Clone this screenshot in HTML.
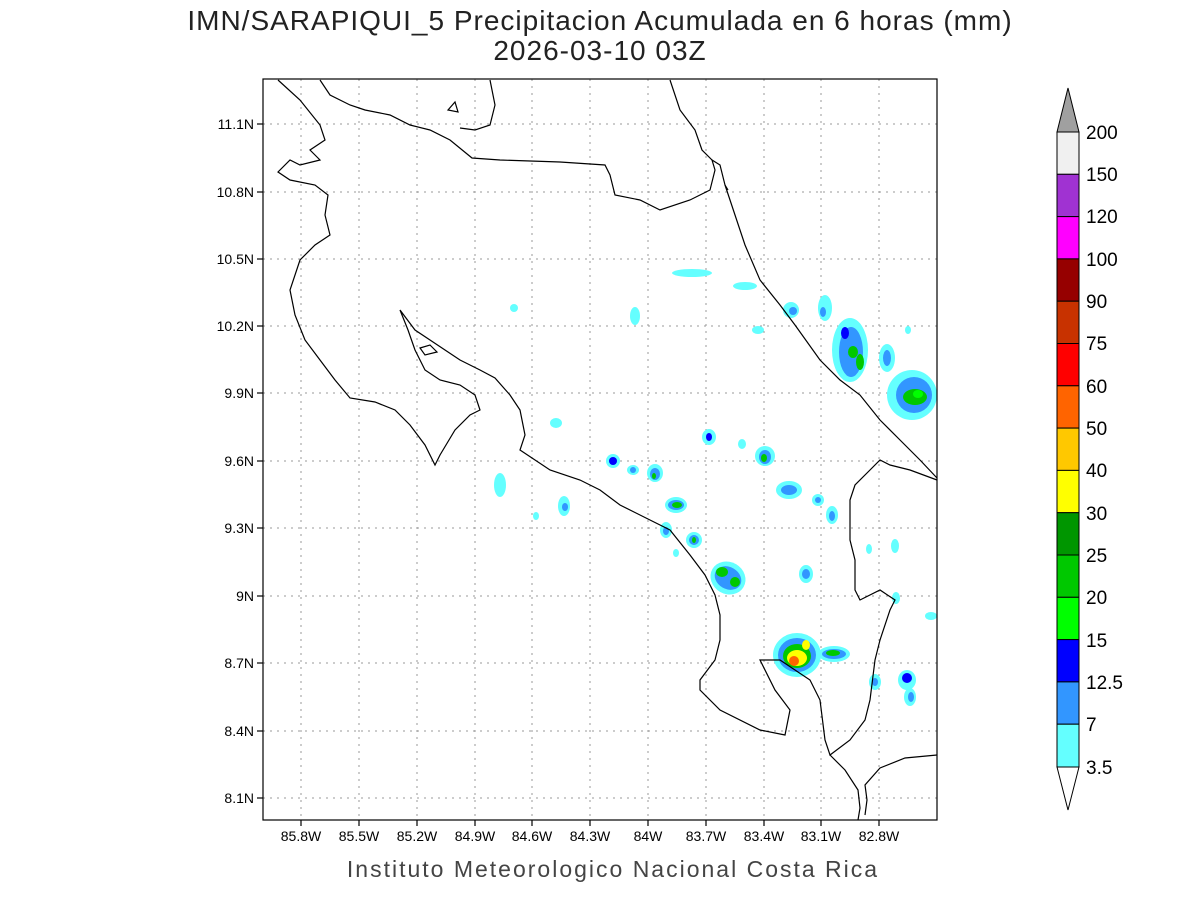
<!DOCTYPE html>
<html><head><meta charset="utf-8"><style>
body{margin:0;background:#fff;width:1200px;height:900px;overflow:hidden}
svg{display:block}
text{font-family:"Liberation Sans",sans-serif}
</style></head><body>
<svg width="1200" height="900" viewBox="0 0 1200 900">
<rect width="1200" height="900" fill="#fff"/>
<text x="600" y="30" font-size="28" text-anchor="middle" fill="#222" letter-spacing="1">IMN/SARAPIQUI_5 Precipitacion Acumulada en 6 horas (mm)</text>
<text x="600" y="60" font-size="28" text-anchor="middle" fill="#222" letter-spacing="1">2026-03-10 03Z</text>
<g stroke="#999" stroke-dasharray="2,5" stroke-width="1">
<line x1="301" y1="79" x2="301" y2="820"/><line x1="359" y1="79" x2="359" y2="820"/><line x1="417" y1="79" x2="417" y2="820"/><line x1="475" y1="79" x2="475" y2="820"/><line x1="532" y1="79" x2="532" y2="820"/><line x1="590" y1="79" x2="590" y2="820"/><line x1="648" y1="79" x2="648" y2="820"/><line x1="706" y1="79" x2="706" y2="820"/><line x1="764" y1="79" x2="764" y2="820"/><line x1="821" y1="79" x2="821" y2="820"/><line x1="879" y1="79" x2="879" y2="820"/>
<line x1="263" y1="124" x2="937" y2="124"/><line x1="263" y1="192" x2="937" y2="192"/><line x1="263" y1="259" x2="937" y2="259"/><line x1="263" y1="326" x2="937" y2="326"/><line x1="263" y1="393" x2="937" y2="393"/><line x1="263" y1="461" x2="937" y2="461"/><line x1="263" y1="528" x2="937" y2="528"/><line x1="263" y1="596" x2="937" y2="596"/><line x1="263" y1="663" x2="937" y2="663"/><line x1="263" y1="731" x2="937" y2="731"/><line x1="263" y1="798" x2="937" y2="798"/>
</g>
<g stroke="#000" stroke-width="1.2">
<line x1="301" y1="820" x2="301" y2="826"/><line x1="359" y1="820" x2="359" y2="826"/><line x1="417" y1="820" x2="417" y2="826"/><line x1="475" y1="820" x2="475" y2="826"/><line x1="532" y1="820" x2="532" y2="826"/><line x1="590" y1="820" x2="590" y2="826"/><line x1="648" y1="820" x2="648" y2="826"/><line x1="706" y1="820" x2="706" y2="826"/><line x1="764" y1="820" x2="764" y2="826"/><line x1="821" y1="820" x2="821" y2="826"/><line x1="879" y1="820" x2="879" y2="826"/>
<line x1="257" y1="124" x2="263" y2="124"/><line x1="257" y1="192" x2="263" y2="192"/><line x1="257" y1="259" x2="263" y2="259"/><line x1="257" y1="326" x2="263" y2="326"/><line x1="257" y1="393" x2="263" y2="393"/><line x1="257" y1="461" x2="263" y2="461"/><line x1="257" y1="528" x2="263" y2="528"/><line x1="257" y1="596" x2="263" y2="596"/><line x1="257" y1="663" x2="263" y2="663"/><line x1="257" y1="731" x2="263" y2="731"/><line x1="257" y1="798" x2="263" y2="798"/>
</g>
<!-- precip blobs -->
<g>
<ellipse cx="692" cy="273" rx="20" ry="4" fill="#64ffff"/>
<ellipse cx="745" cy="286" rx="12" ry="4" fill="#64ffff"/>
<ellipse cx="514" cy="308" rx="4" ry="4" fill="#64ffff"/>
<ellipse cx="635" cy="316" rx="5" ry="9" fill="#64ffff"/>
<ellipse cx="758" cy="330" rx="6" ry="4" fill="#64ffff"/>
<ellipse cx="791" cy="310" rx="8" ry="8" fill="#64ffff"/><ellipse cx="793" cy="311" rx="4" ry="4" fill="#3296ff"/>
<ellipse cx="825" cy="308" rx="7" ry="13" fill="#64ffff"/><ellipse cx="823" cy="312" rx="3" ry="5" fill="#3296ff"/>
<ellipse cx="850" cy="350" rx="18" ry="32" fill="#64ffff"/><ellipse cx="851" cy="352" rx="12" ry="25" fill="#3296ff"/>
<ellipse cx="845" cy="333" rx="4" ry="6" fill="#0000ff"/><ellipse cx="853" cy="352" rx="5" ry="6" fill="#00c800"/><ellipse cx="860" cy="362" rx="4" ry="8" fill="#00c800"/>
<ellipse cx="887" cy="358" rx="8" ry="14" fill="#64ffff"/><ellipse cx="887" cy="358" rx="4" ry="8" fill="#3296ff"/>
<ellipse cx="912" cy="395" rx="25" ry="25" fill="#64ffff"/><ellipse cx="914" cy="395" rx="18" ry="18" fill="#3296ff"/><ellipse cx="915" cy="397" rx="12" ry="8" fill="#00c800"/><ellipse cx="918" cy="394" rx="5" ry="4" fill="#00ff00"/>
<ellipse cx="908" cy="330" rx="3" ry="4" fill="#64ffff"/>
<ellipse cx="556" cy="423" rx="6" ry="5" fill="#64ffff"/>
<ellipse cx="709" cy="437" rx="7" ry="8" fill="#64ffff"/><ellipse cx="709" cy="437" rx="3" ry="4" fill="#0000ff"/>
<ellipse cx="742" cy="444" rx="4" ry="5" fill="#64ffff"/>
<ellipse cx="765" cy="456" rx="10" ry="10" fill="#64ffff"/><ellipse cx="765" cy="457" rx="6" ry="7" fill="#3296ff"/><ellipse cx="764" cy="458" rx="3" ry="4" fill="#00c800"/>
<ellipse cx="613" cy="461" rx="7" ry="7" fill="#64ffff"/><ellipse cx="613" cy="461" rx="4" ry="4" fill="#0000ff"/>
<ellipse cx="633" cy="470" rx="6" ry="5" fill="#64ffff"/><ellipse cx="633" cy="470" rx="3" ry="3" fill="#3296ff"/>
<ellipse cx="655" cy="473" rx="8" ry="9" fill="#64ffff"/><ellipse cx="655" cy="474" rx="5" ry="6" fill="#3296ff"/><ellipse cx="654" cy="476" rx="2" ry="3" fill="#00c800"/>
<ellipse cx="500" cy="485" rx="6" ry="12" fill="#64ffff"/>
<ellipse cx="789" cy="490" rx="13" ry="9" fill="#64ffff"/><ellipse cx="789" cy="490" rx="8" ry="5" fill="#3296ff"/>
<ellipse cx="818" cy="500" rx="6" ry="6" fill="#64ffff"/><ellipse cx="818" cy="500" rx="3" ry="3" fill="#3296ff"/>
<ellipse cx="832" cy="515" rx="6" ry="9" fill="#64ffff"/><ellipse cx="832" cy="516" rx="3" ry="5" fill="#3296ff"/>
<ellipse cx="564" cy="506" rx="6" ry="10" fill="#64ffff"/><ellipse cx="565" cy="507" rx="3" ry="4" fill="#3296ff"/>
<ellipse cx="676" cy="505" rx="11" ry="8" fill="#64ffff"/><ellipse cx="676" cy="505" rx="8" ry="5" fill="#3296ff"/><ellipse cx="677" cy="505" rx="5" ry="3" fill="#00c800"/>
<ellipse cx="536" cy="516" rx="3" ry="4" fill="#64ffff"/>
<ellipse cx="666" cy="530" rx="6" ry="8" fill="#64ffff"/><ellipse cx="666" cy="531" rx="3" ry="4" fill="#3296ff"/>
<ellipse cx="694" cy="540" rx="8" ry="8" fill="#64ffff"/><ellipse cx="694" cy="540" rx="5" ry="5" fill="#3296ff"/><ellipse cx="694" cy="540" rx="2" ry="3" fill="#00c800"/>
<ellipse cx="676" cy="553" rx="3" ry="4" fill="#64ffff"/>
<ellipse cx="869" cy="549" rx="3" ry="5" fill="#64ffff"/><ellipse cx="895" cy="546" rx="4" ry="7" fill="#64ffff"/>
<ellipse cx="728" cy="578" rx="18" ry="16" transform="rotate(30 728 578)" fill="#64ffff"/><ellipse cx="728" cy="578" rx="14" ry="11" transform="rotate(30 728 578)" fill="#3296ff"/><ellipse cx="722" cy="572" rx="6" ry="5" fill="#00c800"/><ellipse cx="735" cy="582" rx="5" ry="5" fill="#00c800"/>
<ellipse cx="806" cy="574" rx="7" ry="9" fill="#64ffff"/><ellipse cx="806" cy="574" rx="4" ry="5" fill="#3296ff"/>
<ellipse cx="896" cy="598" rx="4" ry="6" fill="#64ffff"/><ellipse cx="931" cy="616" rx="6" ry="4" fill="#64ffff"/>
<ellipse cx="797" cy="655" rx="24" ry="22" fill="#64ffff"/><ellipse cx="797" cy="655" rx="19" ry="17" fill="#3296ff"/><ellipse cx="797" cy="656" rx="14" ry="12" fill="#00c800"/><ellipse cx="797" cy="658" rx="10" ry="8" fill="#ffff00"/><ellipse cx="794" cy="661" rx="5" ry="5" fill="#ff6400"/><ellipse cx="806" cy="645" rx="4" ry="5" fill="#ffff00"/>
<ellipse cx="834" cy="654" rx="16" ry="8" fill="#64ffff"/><ellipse cx="834" cy="654" rx="12" ry="5" fill="#3296ff"/><ellipse cx="833" cy="653" rx="7" ry="3" fill="#00c800"/>
<ellipse cx="875" cy="682" rx="6" ry="8" fill="#64ffff"/><ellipse cx="875" cy="682" rx="3" ry="4" fill="#3296ff"/>
<ellipse cx="907" cy="680" rx="9" ry="10" fill="#64ffff"/><ellipse cx="907" cy="678" rx="5" ry="5" fill="#0000ff"/>
<ellipse cx="910" cy="697" rx="6" ry="9" fill="#64ffff"/><ellipse cx="911" cy="697" rx="3" ry="5" fill="#3296ff"/>
</g>
<!-- coastlines -->
<g fill="none" stroke="#000" stroke-width="1.2">
<polyline points="278,80 300,100 320,125 325,140 310,150 320,160 300,165 290,160 278,172 290,180 315,185 328,195 325,215 330,235 315,245 300,260 290,290 295,315 305,340 320,360 335,380 350,398 375,402 395,410 410,425 425,445 435,465 440,455 455,430 470,415 480,410 475,395 460,385 440,380 425,370 415,350 408,330 400,310 415,330 430,340 445,350 460,360 480,370 495,378 510,395 520,410 525,435 520,450 550,470 580,480 600,490 620,505 650,520 670,530 690,555 705,575 715,595 720,615 720,640 715,660 700,680 700,690 720,710 760,730 785,735 790,710 775,690 760,660 780,660 810,680 820,700 825,740 830,755 850,740 865,720 870,700 875,660 880,640 890,610 895,600 880,590 860,600 855,590 855,560 850,540 850,500 855,485 870,470 880,460 890,465 910,470 937,480"/>
<polyline points="725,185 735,215 745,245 760,280 780,305 795,325 820,360 840,380 860,395 880,420 900,440 920,460 937,478"/>
<polyline points="320,80 330,95 350,105 365,110 390,115 410,125 430,130 450,140 472,158 500,160 560,162 605,165 610,175 615,195 640,200 660,210 690,200 710,190 715,170 712,160 720,165 725,185 728,190"/>
<polyline points="490,80 495,105 490,125 475,130 460,128"/>
<polyline points="670,80 680,110 695,130 702,150 712,160"/>
<polyline points="937,755 905,758 880,768 865,785 867,800 865,815"/>
<polyline points="830,755 845,770 858,790 860,808 858,820"/>
<polygon points="420,348 430,345 437,352 425,355"/>
<polygon points="448,110 455,102 458,112"/>
</g>
<rect x="263" y="79" width="674" height="741" fill="none" stroke="#000" stroke-width="1.2"/>
<g font-size="14" fill="#000" text-anchor="end">
<text x="254" y="129">11.1N</text><text x="254" y="197">10.8N</text><text x="254" y="264">10.5N</text><text x="254" y="331">10.2N</text><text x="254" y="398">9.9N</text><text x="254" y="466">9.6N</text><text x="254" y="533">9.3N</text><text x="254" y="601">9N</text><text x="254" y="668">8.7N</text><text x="254" y="736">8.4N</text><text x="254" y="803">8.1N</text>
</g>
<g font-size="14" fill="#000" text-anchor="middle">
<text x="301" y="841">85.8W</text><text x="359" y="841">85.5W</text><text x="417" y="841">85.2W</text><text x="475" y="841">84.9W</text><text x="532" y="841">84.6W</text><text x="590" y="841">84.3W</text><text x="648" y="841">84W</text><text x="706" y="841">83.7W</text><text x="764" y="841">83.4W</text><text x="821" y="841">83.1W</text><text x="879" y="841">82.8W</text>
</g>
<text x="613" y="877" font-size="23" fill="#444" text-anchor="middle" letter-spacing="2">Instituto Meteorologico Nacional Costa Rica</text>
<!-- colorbar -->
<g stroke="#000" stroke-width="1">
<polygon points="1057,132 1079,132 1068,88" fill="#a0a0a0"/>
<rect x="1057" y="132" width="22" height="42.3" fill="#f0f0f0"/>
<rect x="1057" y="174.3" width="22" height="42.3" fill="#a032d2"/>
<rect x="1057" y="216.6" width="22" height="42.3" fill="#ff00ff"/>
<rect x="1057" y="258.9" width="22" height="42.3" fill="#960000"/>
<rect x="1057" y="301.2" width="22" height="42.3" fill="#c83200"/>
<rect x="1057" y="343.5" width="22" height="42.3" fill="#ff0000"/>
<rect x="1057" y="385.8" width="22" height="42.3" fill="#ff6400"/>
<rect x="1057" y="428.1" width="22" height="42.3" fill="#ffc800"/>
<rect x="1057" y="470.4" width="22" height="42.3" fill="#ffff00"/>
<rect x="1057" y="512.7" width="22" height="42.3" fill="#009600"/>
<rect x="1057" y="555" width="22" height="42.3" fill="#00c800"/>
<rect x="1057" y="597.3" width="22" height="42.3" fill="#00ff00"/>
<rect x="1057" y="639.6" width="22" height="42.3" fill="#0000ff"/>
<rect x="1057" y="681.9" width="22" height="42.3" fill="#3296ff"/>
<rect x="1057" y="724.2" width="22" height="42.8" fill="#64ffff"/>
<polygon points="1057,767 1079,767 1068,810" fill="#fff"/>
</g>
<g font-size="19" fill="#000">
<text x="1086" y="139">200</text><text x="1086" y="181">150</text><text x="1086" y="223">120</text><text x="1086" y="266">100</text><text x="1086" y="308">90</text><text x="1086" y="350">75</text><text x="1086" y="393">60</text><text x="1086" y="435">50</text><text x="1086" y="477">40</text><text x="1086" y="520">30</text><text x="1086" y="562">25</text><text x="1086" y="604">20</text><text x="1086" y="647">15</text><text x="1086" y="689">12.5</text><text x="1086" y="731">7</text><text x="1086" y="774">3.5</text>
</g>
</svg>
</body></html>
